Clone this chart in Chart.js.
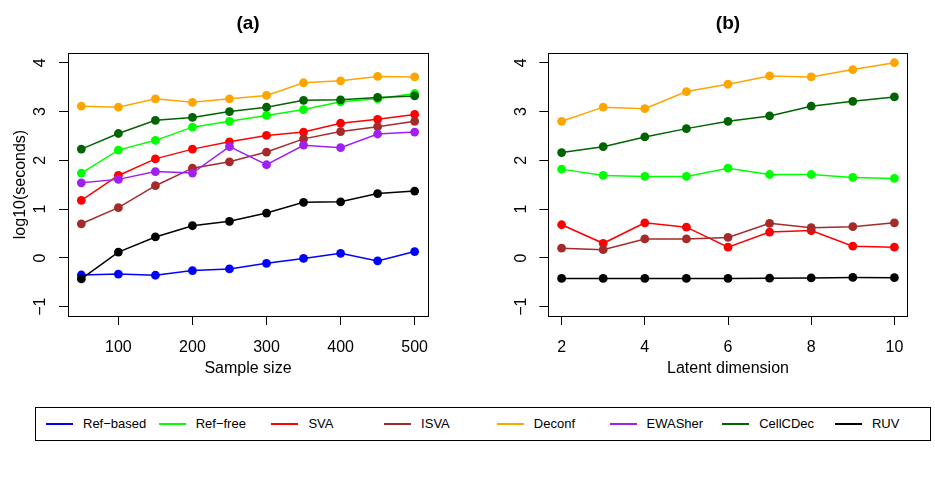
<!DOCTYPE html>
<html>
<head>
<meta charset="utf-8">
<script src="https://cdn.jsdelivr.net/npm/chart.js@4"></script>
<style>
  body { margin: 0; background: #fff; width: 935px; height: 480px; position: relative; overflow: hidden; font-family: "Liberation Sans", Arial, sans-serif; }
  #wrapA { position: absolute; left: 0; top: 0; width: 467px; height: 390px; }
  #wrapB { position: absolute; left: 467px; top: 0; width: 468px; height: 390px; }
  #legend { position: absolute; left: 35px; top: 407px; width: 894px; height: 32px; border: 1px solid #000; }
  .item { position: absolute; top: 0; height: 32px; }
  .swatch { position: absolute; top: 15px; width: 27px; height: 2px; }
  .label { position: absolute; top: 8px; left: 37px; font-size: 13px; white-space: nowrap; color: #000; }
</style>
</head>
<body>
<div id="wrapA"><canvas id="chartA"></canvas></div>
<div id="wrapB"><canvas id="chartB"></canvas></div>
<div id="legend"></div>
<script>
// methods and colours
const methods = ["Ref\u2212based", "Ref\u2212free", "SVA", "ISVA", "Deconf", "EWASher", "CellCDec", "RUV"];
const colors = ["#0000ff", "#00ff00", "#ff0000", "#a52a2a", "#ffa500", "#a020f0", "#006400", "#000000"];

// panel (a): sample size
const sampleSizes = [50, 100, 150, 200, 250, 300, 350, 400, 450, 500];
const refBasedA = [-0.35, -0.33, -0.355, -0.26, -0.225, -0.11, -0.01, 0.095, -0.06, 0.13];
const refFreeA = [1.74, 2.21, 2.41, 2.68, 2.80, 2.92, 3.04, 3.20, 3.26, 3.37];
const svaA = [1.18, 1.69, 2.03, 2.23, 2.38, 2.51, 2.58, 2.76, 2.84, 2.94];
const isvaA = [0.70, 1.03, 1.48, 1.84, 1.97, 2.17, 2.44, 2.59, 2.69, 2.80];
const deconfA = [3.11, 3.09, 3.26, 3.19, 3.26, 3.33, 3.59, 3.63, 3.72, 3.71];
const ewasherA = [1.54, 1.61, 1.77, 1.74, 2.28, 1.91, 2.31, 2.26, 2.54, 2.58];
const cellcdecA = [2.23, 2.55, 2.82, 2.88, 3.00, 3.09, 3.23, 3.24, 3.29, 3.32];
const ruvA = [-0.43, 0.12, 0.43, 0.66, 0.75, 0.92, 1.14, 1.15, 1.32, 1.37];

// panel (b): latent dimension (no Ref-based / EWASher)
const latentDims = [2, 3, 4, 5, 6, 7, 8, 9, 10];
const refFreeB = [1.82, 1.69, 1.67, 1.67, 1.84, 1.71, 1.71, 1.65, 1.63];
const svaB = [0.68, 0.30, 0.72, 0.63, 0.22, 0.53, 0.56, 0.24, 0.22];
const isvaB = [0.20, 0.17, 0.39, 0.39, 0.42, 0.71, 0.62, 0.64, 0.72];
const deconfB = [2.80, 3.09, 3.06, 3.41, 3.56, 3.73, 3.71, 3.86, 4.00];
const cellcdecB = [2.16, 2.28, 2.48, 2.65, 2.80, 2.91, 3.11, 3.21, 3.30];
const ruvB = [-0.42, -0.42, -0.42, -0.42, -0.42, -0.415, -0.41, -0.40, -0.405];

// tick labels
const yTicks = [-1, 0, 1, 2, 3, 4];
const xTicksA = [100, 200, 300, 400, 500];
const xTicksB = [2, 4, 6, 8, 10];

const seriesA = [refBasedA, refFreeA, svaA, isvaA, deconfA, ewasherA, cellcdecA, ruvA];
const seriesB = [null, refFreeB, svaB, isvaB, deconfB, null, cellcdecB, ruvB];

const FONT = "'Liberation Sans', Arial, sans-serif";

function makeDatasets(xs, series) {
  const out = [];
  series.forEach((ys, i) => {
    if (!ys) return;
    out.push({
      label: methods[i],
      data: xs.map((x, j) => ({ x: x, y: ys[j] })),
      borderColor: colors[i],
      backgroundColor: colors[i],
      pointBackgroundColor: colors[i],
      pointBorderWidth: 0,
      pointRadius: 4.4,
      borderWidth: 1.5,
      tension: 0,
      order: methods.length - i
    });
  });
  return out;
}

const boxPlugin = {
  id: "box",
  afterDraw(chart) {
    const a = chart.chartArea;
    const ctx = chart.ctx;
    ctx.save();
    ctx.strokeStyle = "#000";
    ctx.lineWidth = 1;
    ctx.strokeRect(Math.round(a.left) + 0.5, Math.round(a.top) + 0.5, Math.round(a.right - a.left), Math.round(a.bottom - a.top));
    ctx.restore();
  }
};

function makeConfig(xs, series, title, xTitle, xMin, xMax, xTicks, yWidth, rightPad, showYTitle) {
  return {
    type: "line",
    data: { datasets: makeDatasets(xs, series) },
    plugins: [boxPlugin],
    options: {
      responsive: true,
      maintainAspectRatio: false,
      animation: false,
      layout: { padding: { left: 0, right: rightPad, top: 0, bottom: 0 } },
      plugins: {
        legend: { display: false },
        tooltip: { enabled: false },
        title: {
          display: true,
          text: title,
          fullSize: false,
          color: "#000",
          font: { family: FONT, size: 19, weight: "bold", lineHeight: 1.2 },
          padding: { top: 12.6, bottom: 17.6 }
        }
      },
      scales: {
        x: {
          type: "linear",
          min: xMin,
          max: xMax,
          afterBuildTicks: s => { s.ticks = xTicks.map(v => ({ value: v })); },
          afterFit: s => { s.height = 74; },
          grid: { display: true, drawOnChartArea: false, drawTicks: true, tickLength: 9, tickColor: "#000", tickWidth: 1 },
          border: { display: true, color: "#000", width: 1 },
          ticks: { color: "#000", padding: 13, maxRotation: 0, font: { family: FONT, size: 16 } },
          title: { display: true, text: xTitle, color: "#000", font: { family: FONT, size: 16 }, padding: { top: 0, bottom: 12 } }
        },
        y: {
          type: "linear",
          min: -1.19,
          max: 4.2,
          afterBuildTicks: s => { s.ticks = yTicks.map(v => ({ value: v })); },
          afterFit: s => { s.width = yWidth; },
          grid: { display: true, drawOnChartArea: false, drawTicks: true, tickLength: 9, tickColor: "#000", tickWidth: 1 },
          border: { display: true, color: "#000", width: 1 },
          ticks: {
            color: "#000", padding: 9, minRotation: 90, maxRotation: 90, crossAlign: "center",
            font: { family: FONT, size: 16 },
            callback: v => String(v).replace("-", "\u2212")
          },
          title: { display: showYTitle, text: "log10(seconds)", color: "#000", font: { family: FONT, size: 16 }, padding: { top: 11, bottom: 0 } }
        }
      }
    }
  };
}

new Chart(document.getElementById("chartA"),
  makeConfig(sampleSizes, seriesA, "(a)", "Sample size", 32, 518, xTicksA, 68, 39, true));
new Chart(document.getElementById("chartB"),
  makeConfig(latentDims, seriesB, "(b)", "Latent dimension", 1.68, 10.32, xTicksB, 81.3, 27.3, false));

// legend box across the bottom
const legend = document.getElementById("legend");
methods.forEach((name, i) => {
  const item = document.createElement("div");
  item.className = "item";
  item.style.left = (10 + 112.7 * i) + "px";
  const sw = document.createElement("div");
  sw.className = "swatch";
  sw.style.background = colors[i];
  const lb = document.createElement("div");
  lb.className = "label";
  lb.textContent = name;
  item.appendChild(sw);
  item.appendChild(lb);
  legend.appendChild(item);
});
</script>
</body>
</html>
